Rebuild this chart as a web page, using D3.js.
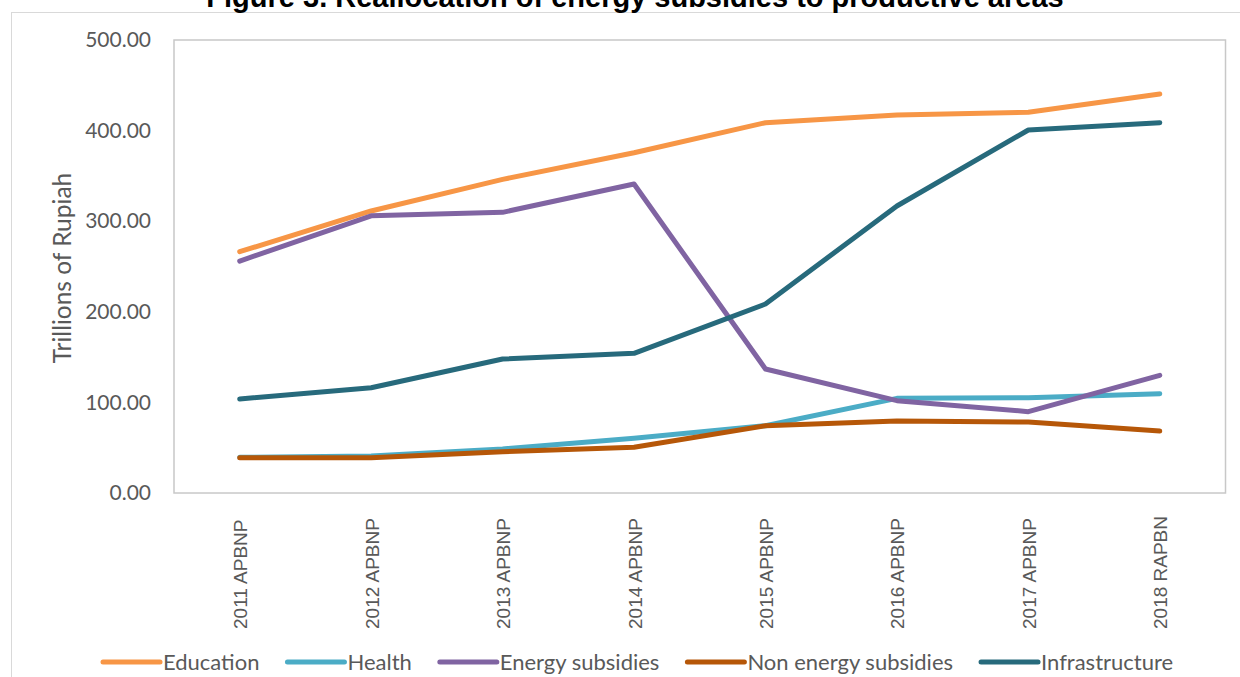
<!DOCTYPE html>
<html>
<head>
<meta charset="utf-8">
<script src="https://cdn.jsdelivr.net/npm/d3@7/dist/d3.min.js"></script>
<style>
  html, body { margin: 0; padding: 0; background: #fff; }
  svg { display: block; }
</style>
</head>
<body>
<svg id="chart" width="1240" height="677"></svg>
<script>
// Budget allocations, trillions of Rupiah
const categories = ["2011 APBNP", "2012 APBNP", "2013 APBNP", "2014 APBNP",
                    "2015 APBNP", "2016 APBNP", "2017 APBNP", "2018 RAPBN"];
const education      = [266.3, 311.3, 346.2, 375.6, 408.7, 417.2, 420.2, 440.4];
const health         = [39.4, 40.8, 48.6, 60.4, 74.3, 104.5, 105.2, 109.6];
const energySubs     = [256.0, 306.0, 309.8, 341.0, 136.9, 101.9, 89.8, 129.9];
const nonEnergySubs  = [39.0, 39.0, 45.6, 50.4, 74.3, 79.5, 78.4, 68.4];
const infrastructure = [103.8, 116.2, 147.9, 154.2, 208.6, 316.8, 400.7, 408.7];
const seriesNames    = ["Education", "Health", "Energy subsidies", "Non energy subsidies", "Infrastructure"];
const seriesColors   = ["#F79646", "#4BACC6", "#8064A2", "#B65708", "#276A7C"];
const yTicks         = [0, 100, 200, 300, 400, 500];

const series = [education, health, energySubs, nonEnergySubs, infrastructure]
  .map((values, i) => ({ name: seriesNames[i], color: seriesColors[i], values }));

const svg = d3.select("#chart");
const plot = { left: 174, right: 1225.5, top: 40, bottom: 493 };

const x = d3.scalePoint().domain(categories).range([plot.left, plot.right]).padding(0.5);
const y = d3.scaleLinear().domain([0, 500]).range([plot.bottom, plot.top]);

// Outer chart-area border
svg.append("rect")
  .attr("x", 11.5).attr("y", 12.5).attr("width", 1240).attr("height", 700)
  .attr("fill", "none").attr("stroke", "#D9D9D9").attr("stroke-width", 1);

// Title (sits above the chart area)
svg.append("text")
  .attr("x", 635).attr("y", 7)
  .attr("text-anchor", "middle")
  .attr("font-family", "'Liberation Sans', Arial, sans-serif")
  .attr("font-weight", "bold")
  .attr("font-size", 29)
  .attr("fill", "#000")
  .text("Figure 3. Reallocation of energy subsidies to productive areas");

// Plot-area border
svg.append("rect")
  .attr("x", plot.left).attr("y", plot.top)
  .attr("width", plot.right - plot.left).attr("height", plot.bottom - plot.top)
  .attr("fill", "none").attr("stroke", "#C8C8C8").attr("stroke-width", 1.5);

// Y axis labels
const yAxis = d3.axisLeft(y).tickValues(yTicks).tickFormat(d3.format(".2f")).tickSize(0).tickPadding(23);
const gy = svg.append("g").attr("transform", `translate(${plot.left},0)`).call(yAxis);
gy.select(".domain").remove();
gy.selectAll("text")
  .attr("font-family", "Lato, 'Open Sans', sans-serif")
  .attr("font-size", 21)
  .attr("fill", "#595959");

// Y axis title
svg.append("text")
  .attr("transform", "translate(70.5,268) rotate(-90)")
  .attr("text-anchor", "middle")
  .attr("font-family", "Lato, 'Open Sans', sans-serif")
  .attr("font-size", 24.5)
  .attr("fill", "#595959")
  .text("Trillions of Rupiah");

// X axis labels, rotated
const xAxis = d3.axisBottom(x).tickSize(0).tickPadding(0);
const gx = svg.append("g").attr("transform", `translate(0,${plot.bottom})`).call(xAxis);
gx.select(".domain").remove();
gx.selectAll("text")
  .attr("font-family", "'Liberation Sans', Arial, sans-serif")
  .attr("font-size", 19)
  .attr("fill", "#595959")
  .attr("text-anchor", "start")
  .attr("dy", null)
  .attr("y", 0)
  .attr("transform", "translate(7,136) rotate(-90)");

// Series lines
const line = d3.line()
  .x((d, i) => x(categories[i]))
  .y(d => y(d));

svg.append("g").selectAll("path")
  .data(series)
  .join("path")
  .attr("d", d => line(d.values))
  .attr("fill", "none")
  .attr("stroke", d => d.color)
  .attr("stroke-width", 5)
  .attr("stroke-linecap", "round")
  .attr("stroke-linejoin", "round");

// Legend
const legend = svg.append("g");
let lx = 103;
const ly = 662;
series.forEach(s => {
  legend.append("line")
    .attr("x1", lx).attr("x2", lx + 57)
    .attr("y1", ly).attr("y2", ly)
    .attr("stroke", s.color).attr("stroke-width", 5)
    .attr("stroke-linecap", "round");
  const t = legend.append("text")
    .attr("x", lx + 60).attr("y", ly + 7.5)
    .attr("font-family", "Lato, 'Open Sans', sans-serif")
    .attr("font-size", 22)
    .attr("fill", "#595959")
    .text(s.name);
  lx += 60 + t.node().getComputedTextLength() + 28;
});
</script>
</body>
</html>
